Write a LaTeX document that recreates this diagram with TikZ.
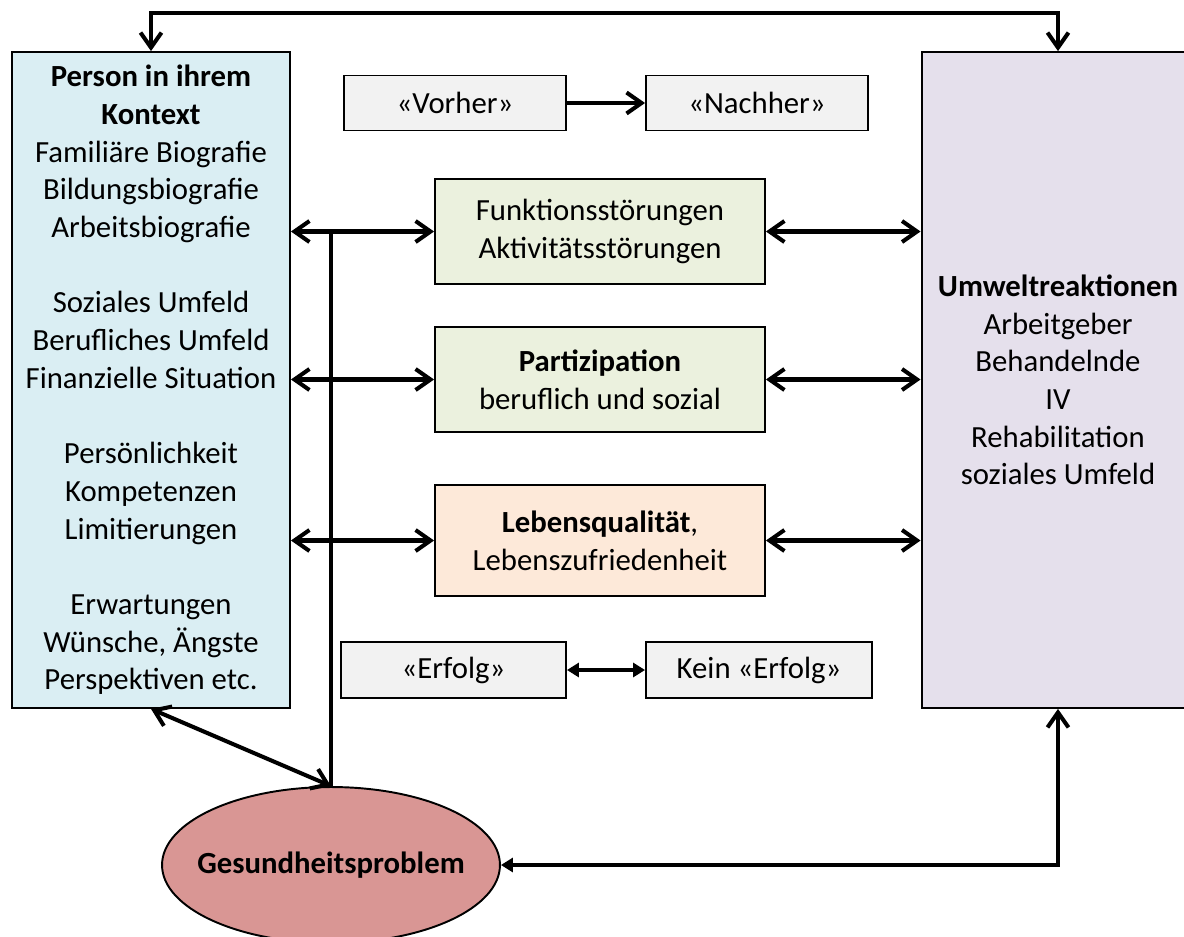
\documentclass[tikz,border=0pt]{standalone}
\usepackage{fontspec}
\setmainfont{Carlito}
\usepackage{tikz}
\usetikzlibrary{arrows.meta,shapes.geometric}
\usepackage{xcolor}
\definecolor{kontextblue}{HTML}{DAEEF3}
\definecolor{umweltlila}{HTML}{E5E0EC}
\definecolor{stoergruen}{HTML}{EBF1DE}
\definecolor{qualipfirsich}{HTML}{FDE9D9}
\definecolor{zustandgrau}{HTML}{F2F2F2}
\definecolor{problemrot}{HTML}{D99694}
\tikzset{
  kasten/.style={draw=black,line width=1.1pt,align=center,inner sep=0pt},
  barb/.style={line width=2.3pt,{Straight Barb[length=3mm,width=4.2mm]}-{Straight Barb[length=3mm,width=4.2mm]}},
  dreieck/.style={line width=2.3pt,{Triangle[length=2.4mm,width=2.8mm]}-{Triangle[length=2.4mm,width=2.8mm]}}
}

\begin{document}
\begin{tikzpicture}[x=0.02cm,y=-0.02cm,font=\fontsize{17.5}{21.45}\selectfont,line cap=butt]
\useasboundingbox (0,0) rectangle (1184,937);
% grosse Kaesten links und rechts
\node[kasten,fill=kontextblue,minimum width=5.56cm,minimum height=13.12cm] (kontext) at (151,380)
  {\textbf{Person in ihrem}\\\textbf{Kontext}\\Familiäre Biografie\\Bildungsbiografie\\Arbeitsbiografie\\[21.45pt]
   Soziales Umfeld\\Berufliches Umfeld\\Finanzielle Situation\\[21.45pt]
   Persönlichkeit\\Kompetenzen\\Limitierungen\\[21.45pt]
   Erwartungen\\Wünsche, Ängste\\Perspektiven etc.};
\node[kasten,fill=umweltlila,minimum width=5.46cm,minimum height=13.12cm] (umwelt) at (1058,380)
  {\textbf{Umweltreaktionen}\\Arbeitgeber\\Behandelnde\\IV\\Rehabilitation\\soziales Umfeld};
% mittlere Kaesten
\node[kasten,fill=zustandgrau,minimum width=4.44cm,minimum height=1.1cm] (vorher) at (455,103) {«Vorher»};
\node[kasten,fill=zustandgrau,minimum width=4.44cm,minimum height=1.1cm] (nachher) at (757,103) {«Nachher»};
\node[kasten,fill=stoergruen,minimum width=6.6cm,minimum height=2.1cm] (funktion) at (600,231.5)
  {Funktionsstörungen\\Aktivitätsstörungen};
\node[kasten,fill=stoergruen,minimum width=6.6cm,minimum height=2.1cm] (partizip) at (600,379.5)
  {\textbf{Partizipation}\\beruflich und sozial};
\node[kasten,fill=qualipfirsich,minimum width=6.6cm,minimum height=2.22cm] (lebens) at (600,540.5)
  {\textbf{Lebensqualität},\\Lebenszufriedenheit};
\node[kasten,fill=zustandgrau,minimum width=4.5cm,minimum height=1.12cm] (erfolg) at (453.5,670) {«Erfolg»};
\node[kasten,fill=zustandgrau,minimum width=4.52cm,minimum height=1.12cm] (keinerfolg) at (759,670) {Kein «Erfolg»};
\node[kasten,ellipse,fill=problemrot,inner xsep=-0.6cm,inner ysep=0pt,minimum width=6.76cm,minimum height=3.12cm] (gesund) at (331,865)
  {\textbf{Gesundheitsproblem}};
% Verbindungen
\draw[barb] (kontext.north) -- ++(0,-38) -| (umwelt.north);
\draw[line width=2.3pt,-{Straight Barb[length=3mm,width=4.2mm]}] (vorher) -- (nachher);
\draw[barb] (kontext.east |- funktion.west) -- (funktion.west);
\draw[line width=2.3pt] (gesund.north) -- (gesund.north |- funktion.west);
\draw[barb] (kontext.east |- partizip.west) -- (partizip.west);
\draw[barb] (kontext.east |- lebens.west) -- (lebens.west);
\draw[barb] (funktion.east) -- (umwelt.west |- funktion.east);
\draw[barb] (partizip.east) -- (umwelt.west |- partizip.east);
\draw[barb] (lebens.east) -- (umwelt.west |- lebens.east);
\draw[dreieck] (erfolg) -- (keinerfolg);
\draw[barb] (kontext.south) -- (gesund.north);
\draw[line width=2.3pt,{Triangle[length=2.4mm,width=2.8mm]}-{Straight Barb[length=3mm,width=4.2mm]}]
  (gesund.east) -| (umwelt.south);
\end{tikzpicture}
\end{document}
